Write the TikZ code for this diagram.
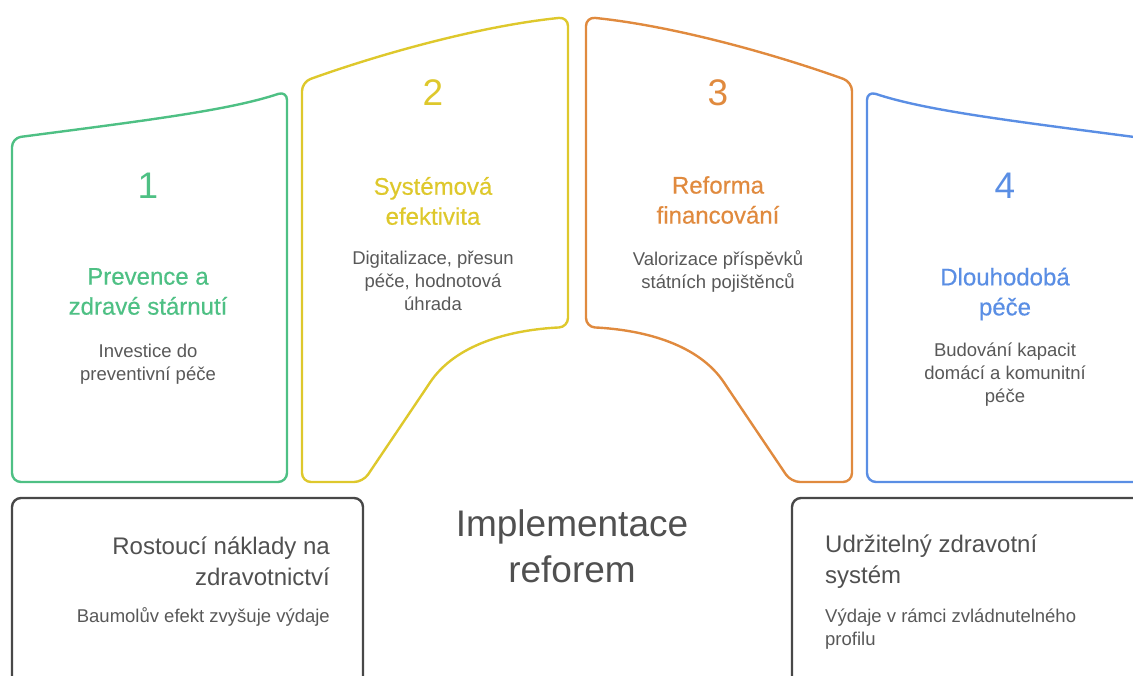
\documentclass[tikz,border=0pt]{standalone}
\usepackage{fontspec}
\setmainfont{Liberation Sans}
\newfontfamily\medfont[FakeBold=0.5]{Liberation Sans}
\definecolor{cgreen}{RGB}{78,192,132}
\definecolor{cyellow}{RGB}{222,200,44}
\definecolor{corange}{RGB}{224,138,62}
\definecolor{cblue}{RGB}{90,142,228}
\definecolor{cbox}{RGB}{72,72,72}
\definecolor{cdesc}{RGB}{88,88,88}
\definecolor{cmain}{RGB}{80,80,80}
\begin{document}
\begin{tikzpicture}[x=1pt,y=-1pt,
  panel/.style={line width=2.4, rounded corners=9, line join=round},
  digit/.style={inner sep=0, font=\fontsize{37}{44}\selectfont},
  ptitle/.style={inner sep=0, align=center, font=\medfont\fontsize{24}{30}\selectfont},
  pdesc/.style={inner sep=0, align=center, text=cdesc, font=\fontsize{18.5}{23}\selectfont},
  btitle/.style={inner sep=0, text=cmain, font=\fontsize{24}{31}\selectfont},
  bdesc/.style={inner sep=0, text=cdesc, font=\fontsize{18.5}{23}\selectfont}]
\useasboundingbox (0,0) rectangle (1133,675);
\clip (0,0) rectangle (1133,675);
% panels
\draw[panel, cgreen] (12,482) -- (12,138) .. controls (150,120) and (230,110) .. (287,91) -- (287,482) -- cycle;
\draw[panel, cyellow] (302,482) -- (302,82) .. controls (380,54) and (480,26) .. (568,17) -- (568,327) .. controls (508,330) and (455,345) .. (425,390) -- (363,482) -- cycle;
\draw[panel, corange] (852,482) -- (852,82) .. controls (774,54) and (674,26) .. (586,17) -- (586,327) .. controls (646,330) and (699,345) .. (729,390) -- (791,482) -- cycle;
\draw[panel, cblue] (1142,482) -- (1142,138) .. controls (1004,120) and (924,110) .. (867,91) -- (867,482) -- cycle;
% bottom boxes
\draw[panel, cbox] (12,700) -- (12,498) -- (363,498) -- (363,700);
\draw[panel, cbox] (1142,700) -- (1142,498) -- (792,498) -- (792,700);
% panel texts
\node[digit, text=cgreen] (d1) at (148,186) {1};
\node[ptitle, text=cgreen] (t1) at (148,291.5) {Prevence a\\zdravé stárnutí};
\node[pdesc] (s1) at (148,364) {Investice do\\preventivní péče};
\node[digit, text=cyellow] (d2) at (433,93) {2};
\node[ptitle, text=cyellow] (t2) at (433,201) {Systémová\\efektivita};
\node[pdesc] (s2) at (433,281) {Digitalizace, přesun\\péče, hodnotová\\úhrada};
\node[digit, text=corange] (d3) at (718,93) {3};
\node[ptitle, text=corange] (t3) at (718,200) {Reforma\\financování};
\node[pdesc] (s3) at (718,271) {Valorizace příspěvků\\státních pojištěnců};
\node[digit, text=cblue] (d4) at (1005,186) {4};
\node[ptitle, text=cblue] (t4) at (1005,294) {Dlouhodobá\\péče};
\node[pdesc] (s4) at (1005,375) {Budování kapacit\\domácí a komunitní\\péče};
% center
\node[inner sep=0, align=center, text=cmain, font=\fontsize{37}{46}\selectfont] (c) at (572,546) {Implementace\\reforem};
% boxes texts
\node[btitle, align=right, anchor=east] (bl) at (330,561) {Rostoucí náklady na\\zdravotnictví};
\node[bdesc, anchor=east] (bld) at (330,617) {Baumolův efekt zvyšuje výdaje};
\node[btitle, align=left, anchor=west] (br) at (825,562) {Udržitelný zdravotní\\systém};
\node[bdesc, align=left, anchor=west] (brd) at (825,629) {Výdaje v rámci zvládnutelného\\profilu};
\end{tikzpicture}
\end{document}
